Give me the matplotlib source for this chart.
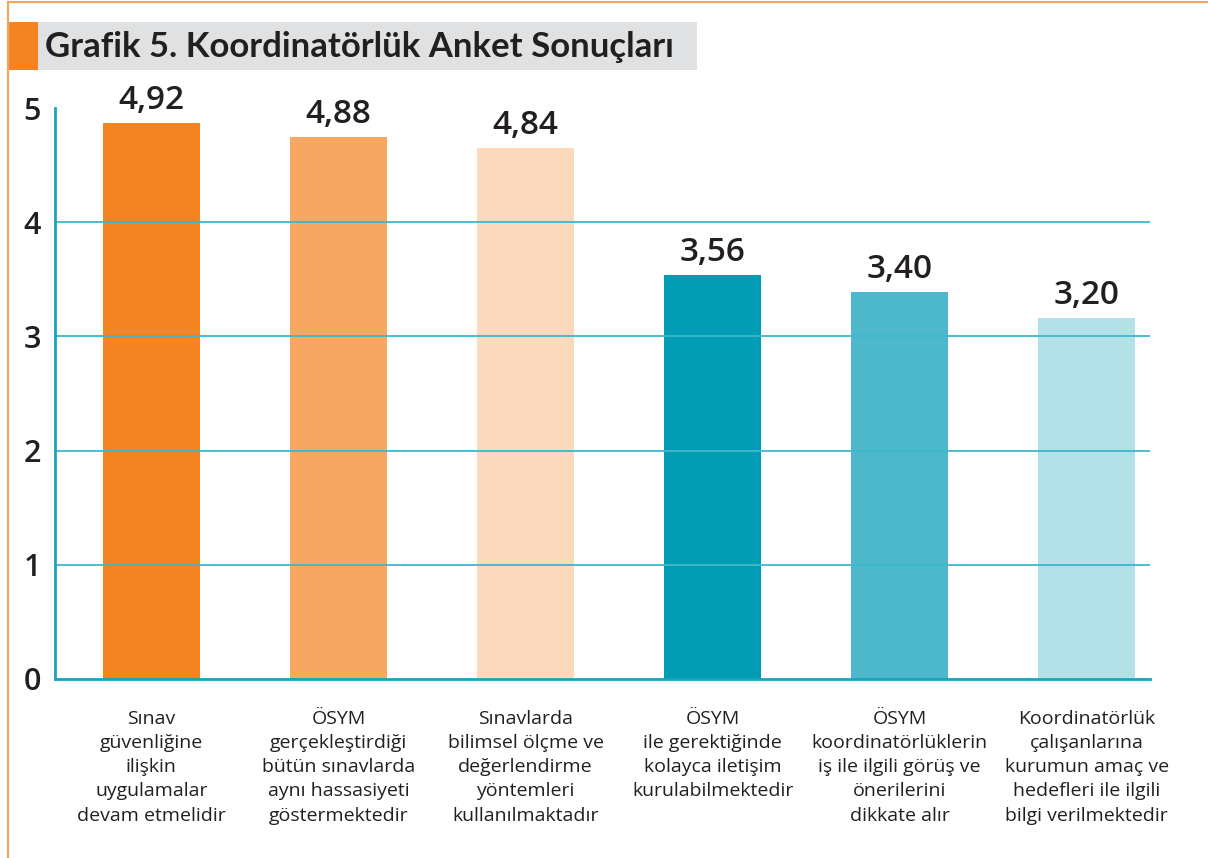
import matplotlib
matplotlib.use("Agg")
import matplotlib.pyplot as plt
from matplotlib.patches import Rectangle
from matplotlib.lines import Line2D

categories = [
    "Sınav\ngüvenliğine\nilişkin\nuygulamalar\ndevam etmelidir",
    "ÖSYM\ngerçekleştirdiği\nbütün sınavlarda\naynı hassasiyeti\ngöstermektedir",
    "Sınavlarda\nbilimsel ölçme ve\ndeğerlendirme\nyöntemleri\nkullanılmaktadır",
    "ÖSYM\nile gerektiğinde\nkolayca iletişim\nkurulabilmektedir",
    "ÖSYM\nkoordinatörlüklerin\niş ile ilgili görüş ve\nönerilerini\ndikkate alır",
    "Koordinatörlük\nçalışanlarına\nkurumun amaç ve\nhedefleri ile ilgili\nbilgi verilmektedir",
]
# bar heights as drawn in the picture
heights = [4.87, 4.75, 4.65, 3.54, 3.39, 3.16]
# value labels as printed
value_labels = ["4,92", "4,88", "4,84", "3,56", "3,40", "3,20"]
yticks = [0, 1, 2, 3, 4, 5]
colors = ["#F38421", "#F6A862", "#FBD9BD", "#009DB5", "#4DB8CB", "#B2E1E8"]

title = "Grafik 5. Koordinatörlük Anket Sonuçları"

W, H = 1208, 858
fig = plt.figure(figsize=(W / 100, H / 100), dpi=100)

def fx(px):
    return px / W

def fy(py):
    return 1 - py / H

text_col = "#231F20"

# frame lines
fig.add_artist(Line2D([fx(8), fx(8)], [0, fy(2)], color="#F5A25D", lw=1.5))
fig.add_artist(Line2D([fx(8), 1], [fy(2), fy(2)], color="#F5A25D", lw=1.5))
# title band
fig.add_artist(Rectangle((fx(8), fy(70)), fx(30), fy(22) - fy(70), color="#F38421", lw=0))
fig.add_artist(Rectangle((fx(38), fy(70)), fx(697 - 38), fy(22) - fy(70), color="#E0E1E3", lw=0))
fig.text(fx(45), fy(47), title, fontsize=25, fontweight="bold", family="Lato",
         color=text_col, va="center", ha="left")

ax = fig.add_axes([fx(55), fy(679), fx(1150 - 55), fy(108) - fy(679)])
x = list(range(len(categories)))
ax.bar(x, heights, width=0.52, color=colors, zorder=1)
ax.set_xlim(-0.515, 5.338)
ax.set_ylim(0, 5)
for y in yticks[1:5]:
    ax.axhline(y, color="#3DB8CC", lw=1.3, zorder=2)

for s in ["top", "right"]:
    ax.spines[s].set_visible(False)
ax.spines["left"].set_color("#1AA3BA")
ax.spines["left"].set_linewidth(2)
ax.spines["bottom"].set_color("#1AA3BA")
ax.spines["bottom"].set_linewidth(2)
ax.spines["bottom"].set_zorder(3)

ax.set_yticks(yticks)
ax.set_yticklabels([str(v) for v in yticks], fontsize=22, fontweight="semibold",
                   family="Open Sans", color=text_col)
ax.tick_params(axis="y", length=0, pad=10)

ax.set_xticks(x)
ax.set_xticklabels(categories, fontsize=14, family="Open Sans", color=text_col,
                   linespacing=1.45)
ax.tick_params(axis="x", length=0, pad=22)

for xi, h, lab in zip(x, heights, value_labels):
    ax.annotate(lab, (xi, h), xytext=(0, 10), textcoords="offset points",
                ha="center", va="baseline", fontsize=24, fontweight="semibold",
                family="Open Sans", color=text_col, annotation_clip=False)

fig.savefig("out.png", dpi=100)
